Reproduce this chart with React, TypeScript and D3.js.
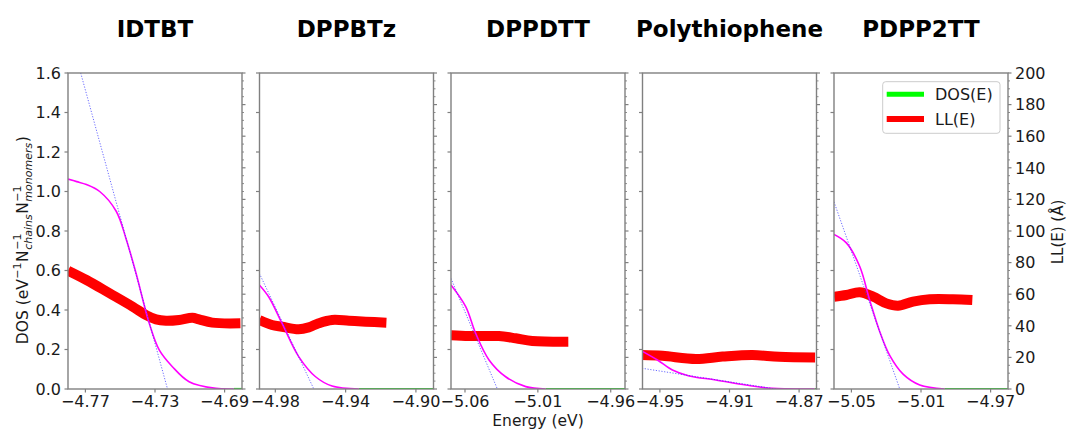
import React from "react";
import * as d3 from "d3";

const W = 1067;
const H = 429;

// ---------- data ----------
const titles = ["IDTBT", "DPPBTz", "DPPDTT", "Polythiophene", "PDPP2TT"];

const xDomains: [number, number][] = [
  [-4.78, -4.68],
  [-4.989, -4.89],
  [-5.0696, -4.9502],
  [-4.96, -4.86],
  [-5.06, -4.96],
];

const xTickValues: number[][] = [
  [-4.77, -4.73, -4.69],
  [-4.98, -4.94, -4.9],
  [-5.06, -5.01, -4.96],
  [-4.95, -4.91, -4.87],
  [-5.05, -5.01, -4.97],
];

const dosTicks = [0, 0.2, 0.4, 0.6, 0.8, 1.0, 1.2, 1.4, 1.6];
const llTicks = [0, 20, 40, 60, 80, 100, 120, 140, 160, 180, 200];

// magenta DOS curve (energy, value)
const dosE: number[][] = [
  [-4.78, -4.775, -4.7694, -4.7618, -4.7523, -4.7466, -4.7409, -4.7333, -4.7275, -4.72, -4.7104, -4.695, -4.6847],
  [-4.9891, -4.9838, -4.9762, -4.9667, -4.9571, -4.9477, -4.9324],
  [-5.0696, -5.0595, -5.0527, -5.0435, -5.0321, -5.0183, -5.0046],
  [-4.9603, -4.9514, -4.9428, -4.9332, -4.9179, -4.9006, -4.8854, -4.861],
  [-5.06, -5.0529, -5.0452, -5.0395, -5.0337, -5.028, -5.0203, -5.0107, -4.9964],
];
const dosV: number[][] = [
  [1.063, 1.05, 1.035, 1.0, 0.9, 0.76, 0.586, 0.333, 0.197, 0.113, 0.037, 0.003, 0.0],
  [0.527, 0.467, 0.333, 0.164, 0.062, 0.015, 0.0],
  [0.527, 0.417, 0.282, 0.147, 0.062, 0.012, 0.0],
  [0.192, 0.147, 0.096, 0.066, 0.046, 0.02, 0.003, 0.0],
  [0.783, 0.74, 0.62, 0.45, 0.29, 0.17, 0.075, 0.02, 0.0],
];

// green DOS(E) tail energies beyond the magenta curve (DOS = 0 there)
const greenTailE: number[][] = [
  [-4.6847, -4.68],
  [-4.9324, -4.89],
  [-5.0046, -4.9502],
  [-4.861, -4.86],
  [-4.9964, -4.96],
];

// blue dotted tangent line
const tanE: number[][] = [
  [-4.7727, -4.7228],
  [-4.9891, -4.9581],
  [-5.0696, -5.0378],
  [-4.9603, -4.8834],
  [-5.06, -5.0222],
];
const tanV: number[][] = [
  [1.6, 0],
  [0.586, 0],
  [0.56, 0],
  [0.105, 0],
  [0.948, 0],
];

// red LL(E) (Å)
const llE: number[][] = [
  [-4.78, -4.7694, -4.7561, -4.7428, -4.7351, -4.7294, -4.7237, -4.7161, -4.7085, -4.7047, -4.6971, -4.6809],
  [-4.9891, -4.9819, -4.9762, -4.9667, -4.961, -4.9553, -4.9477, -4.9381, -4.9286, -4.9168],
  [-5.0696, -5.0572, -5.0367, -5.0252, -5.0138, -4.9891],
  [-4.9603, -4.9485, -4.9293, -4.914, -4.8968, -4.8815, -4.8608],
  [-5.06, -5.0529, -5.0452, -5.0375, -5.0299, -5.0232, -5.0146, -5.005, -4.9916, -4.9805],
];
const llV: number[][] = [
  [74.9, 69.0, 60.6, 52.1, 46.8, 44.1, 43.2, 43.7, 45.1, 44.1, 42.0, 41.6],
  [43.7, 40.5, 39.4, 37.8, 39.0, 41.6, 43.7, 43.2, 42.6, 42.0],
  [34, 33.5, 33.5, 32.1, 30.4, 29.9],
  [21.5, 21, 19, 20.5, 21.5, 20.4, 20],
  [58.4, 59.5, 61.2, 58.4, 54.2, 52.7, 55.3, 56.8, 56.8, 56.3],
];

const legendLabels = ["DOS(E)", "LL(E)"];

// ---------- layout ----------
const FONT = "DejaVu Sans, sans-serif";
const plotTop = 73;
const plotBottom = 389;
const panelW = 174;
const panelLeft0 = 68;
const panelStep = 191.5;
const axisColor = "#808080";
const textColor = "#1a1a1a";
const TICK = 16;

const fmt = (v: number) => d3.format(".2f")(v).replace("-", "\u2212");

let measureCtx: CanvasRenderingContext2D | null = null;
function measure(text: string, font: string) {
  if (!measureCtx) measureCtx = document.createElement("canvas").getContext("2d");
  if (!measureCtx) return text.length * 8;
  measureCtx.font = font;
  return measureCtx.measureText(text).width;
}

function YLabel() {
  const fs = 15.5;
  const ss = 11;
  const reg = `${fs}px DejaVu Sans`;
  const scr = `${ss}px DejaVu Sans`;
  const scrI = `italic ${ss}px DejaVu Sans`;
  const pieces: { t: string; kind: "r" | "sup" | "sub" }[][] = [
    [{ t: "DOS (eV", kind: "r" }],
    [{ t: "\u22121", kind: "sup" }],
    [{ t: "N", kind: "r" }],
    [{ t: "\u22121", kind: "sup" }, { t: "chains", kind: "sub" }],
    [{ t: "N", kind: "r" }],
    [{ t: "\u22121", kind: "sup" }, { t: "monomers", kind: "sub" }],
    [{ t: ")", kind: "r" }],
  ];
  const fontOf = (k: string) => (k === "r" ? reg : k === "sup" ? scr : scrI);
  const widths = pieces.map((grp) => Math.max(...grp.map((p) => measure(p.t, fontOf(p.kind)))) + 0.5);
  const total = widths.reduce((a, b) => a + b, 0);
  let x = -total / 2;
  const els: React.ReactNode[] = [];
  pieces.forEach((grp, i) => {
    grp.forEach((p, j) => {
      els.push(
        <text
          key={`${i}-${j}`}
          x={x}
          y={p.kind === "sup" ? -7 : p.kind === "sub" ? 4 : 0}
          fontSize={p.kind === "r" ? fs : ss}
          fontStyle={p.kind === "sub" ? "italic" : "normal"}
          fill={textColor}
          fontFamily={FONT}
        >
          {p.t}
        </text>
      );
    });
    x += widths[i];
  });
  return <g transform={`translate(27.5, 240) rotate(-90)`}>{els}</g>;
}

export default function App() {
  const y = d3.scaleLinear().domain([0, 1.6]).range([plotBottom, plotTop]);
  const yR = d3.scaleLinear().domain([0, 200]).range([plotBottom, plotTop]);
  const llMinor = d3.range(0, 201, 5);

  return (
    <svg
      width={W}
      height={H}
      style={{ position: "absolute", left: 0, top: 0, background: "white" }}
      fontFamily={FONT}
    >
      <defs>
        {titles.map((_, i) => {
          const left = panelLeft0 + i * panelStep;
          return (
            <clipPath id={`clip${i}`} key={i}>
              <rect x={left} y={plotTop} width={panelW} height={plotBottom - plotTop} />
            </clipPath>
          );
        })}
      </defs>
      {titles.map((title, i) => {
        const left = panelLeft0 + i * panelStep;
        const right = left + panelW;
        const x = d3.scaleLinear().domain(xDomains[i]).range([left, right]);
        const line = d3
          .line<[number, number]>()
          .x((d) => x(d[0]))
          .y((d) => y(d[1]))
          .curve(d3.curveCatmullRom.alpha(0.5));
        const lineR = d3
          .line<[number, number]>()
          .x((d) => x(d[0]))
          .y((d) => yR(d[1]))
          .curve(d3.curveCatmullRom.alpha(0.5));
        const lin = d3
          .line<[number, number]>()
          .x((d) => x(d[0]))
          .y((d) => y(d[1]));
        const dosPts = dosE[i].map((e, k) => [e, dosV[i][k]] as [number, number]);
        const greenPts = greenTailE[i].map((e) => [e, 0] as [number, number]);
        const tanPts = tanE[i].map((e, k) => [e, tanV[i][k]] as [number, number]);
        const llPts = llE[i].map((e, k) => [e, llV[i][k]] as [number, number]);
        return (
          <g key={title}>
            <text
              x={(left + right) / 2}
              y={37}
              textAnchor="middle"
              fontWeight="bold"
              fontSize={23}
              fill="#000"
            >
              {title}
            </text>
            <g clipPath={`url(#clip${i})`}>
              <path d={lin(greenPts) || ""} fill="none" stroke="#00ff00" strokeWidth={2.2} />
              <path d={lineR(llPts) || ""} fill="none" stroke="#ff0000" strokeWidth={10} strokeLinejoin="round" />
              <path d={line(dosPts) || ""} fill="none" stroke="#ff00ff" strokeWidth={1.6} />
              <path
                d={lin(tanPts) || ""}
                fill="none"
                stroke="#3a3aff"
                strokeWidth={1}
                strokeDasharray="1.2,1.6"
                opacity={0.75}
              />
            </g>
            {/* frame */}
            <rect
              x={left}
              y={plotTop}
              width={panelW}
              height={plotBottom - plotTop}
              fill="none"
              stroke={axisColor}
              strokeWidth={1.4}
            />
            {/* left ticks */}
            {dosTicks.map((t) => (
              <line key={`l${t}`} x1={left} x2={left - 3.5} y1={y(t)} y2={y(t)} stroke={axisColor} strokeWidth={1.2} />
            ))}
            {/* right ticks */}
            {llMinor.map((t) => (
              <line
                key={`r${t}`}
                x1={right}
                x2={right + (t % 20 === 0 ? 3.5 : 2)}
                y1={yR(t)}
                y2={yR(t)}
                stroke={axisColor}
                strokeWidth={t % 20 === 0 ? 1.2 : 0.9}
              />
            ))}
            {/* bottom ticks */}
            {xTickValues[i].map((t) => (
              <g key={`b${t}`}>
                <line x1={x(t)} x2={x(t)} y1={plotBottom} y2={plotBottom + 3.5} stroke={axisColor} strokeWidth={1.2} />
                <text x={x(t)} y={406.5} textAnchor="middle" fontSize={TICK} fill={textColor}>
                  {fmt(t)}
                </text>
              </g>
            ))}
            {i === 0 &&
              dosTicks.map((t) => (
                <text key={`lt${t}`} x={left - 7} y={y(t) + 5.8} textAnchor="end" fontSize={TICK} fill={textColor}>
                  {t.toFixed(1)}
                </text>
              ))}
            {i === titles.length - 1 &&
              llTicks.map((t) => (
                <text key={`rt${t}`} x={right + 7} y={yR(t) + 5.8} textAnchor="start" fontSize={TICK} fill={textColor}>
                  {t}
                </text>
              ))}
          </g>
        );
      })}

      {/* legend */}
      <g>
        <rect x={882.7} y={81.7} width={117.3} height={51.6} rx={3} fill="white" fillOpacity={0.8} stroke="#cccccc" strokeWidth={1} />
        <line x1={886.7} x2={924} y1={94.3} y2={94.3} stroke="#00ff00" strokeWidth={5} />
        <text x={935} y={100} fontSize={16} fill={textColor}>
          {legendLabels[0]}
        </text>
        <line x1={886.7} x2={924} y1={119} y2={119} stroke="#ff0000" strokeWidth={6} />
        <text x={935} y={124.7} fontSize={16} fill={textColor}>
          {legendLabels[1]}
        </text>
      </g>

      <YLabel />
      <text
        transform="translate(1063, 232) rotate(-90)"
        textAnchor="middle"
        fontSize={15}
        fill={textColor}
      >
        LL(E) (Å)
      </text>
      <text x={538} y={425.5} textAnchor="middle" fontSize={15.5} fill={textColor}>
        Energy (eV)
      </text>
    </svg>
  );
}
